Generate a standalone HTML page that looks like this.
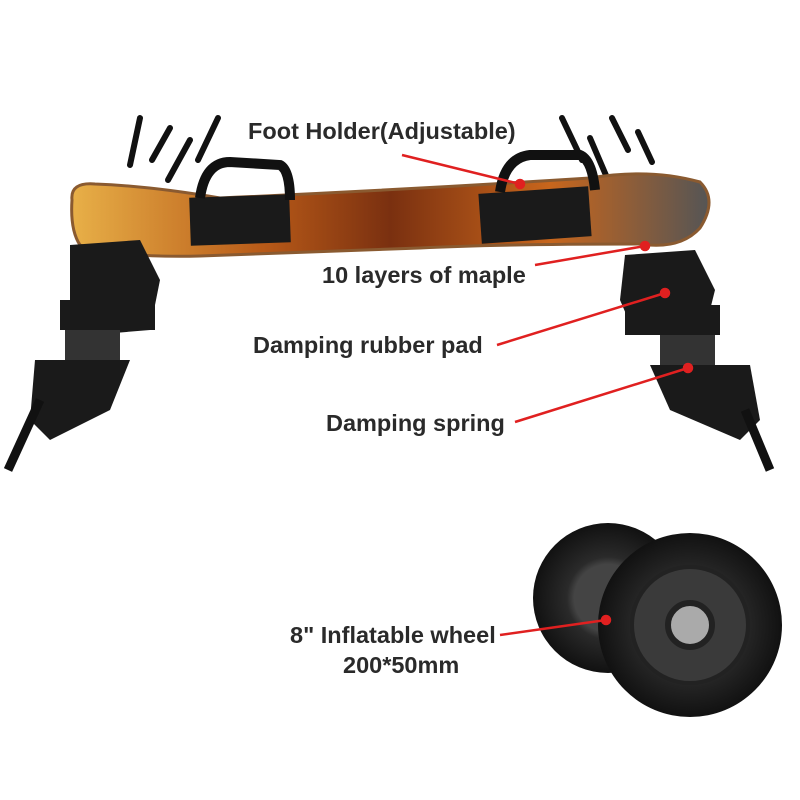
<!DOCTYPE html>
<html><head><meta charset="utf-8"><style>
html,body{margin:0;padding:0;background:#fff;}
svg{display:block}
text{font-family:"Liberation Sans",sans-serif;font-weight:bold;font-size:23.5px;fill:#2a2a2a}
</style></head><body>
<svg width="800" height="800" viewBox="0 0 800 800">
<defs>
<linearGradient id="dk" x1="0" x2="1"><stop offset="0" stop-color="#e8b048"/><stop offset="0.3" stop-color="#b85a18"/><stop offset="0.5" stop-color="#7a3010"/><stop offset="0.75" stop-color="#c8661c"/><stop offset="1" stop-color="#555"/></linearGradient>
<radialGradient id="tw"><stop offset="0.45" stop-color="#444"/><stop offset="0.55" stop-color="#2a2a2a"/><stop offset="1" stop-color="#111"/></radialGradient>
</defs>
<g stroke="#111" stroke-width="6" stroke-linecap="round">
<line x1="140" y1="118" x2="130" y2="165"/><line x1="170" y1="128" x2="152" y2="160"/>
<line x1="190" y1="140" x2="168" y2="180"/><line x1="218" y1="118" x2="198" y2="160"/>
<line x1="562" y1="118" x2="582" y2="160"/><line x1="590" y1="138" x2="608" y2="180"/>
<line x1="612" y1="118" x2="628" y2="150"/><line x1="638" y1="132" x2="652" y2="162"/>
</g>
<path d="M72 200 Q70 182 95 184 Q150 186 220 198 Q400 190 590 178 Q650 168 700 182 Q718 200 700 228 Q680 250 640 244 Q500 244 420 248 Q300 252 200 256 Q120 258 80 245 Q70 230 72 200Z" fill="url(#dk)" stroke="#8a5a30" stroke-width="3"/>
<rect x="190" y="196" width="100" height="48" fill="#1a1a1a" transform="rotate(-2 240 220)"/>
<rect x="480" y="190" width="110" height="50" fill="#1a1a1a" transform="rotate(-4 535 215)"/>
<path d="M200 198 Q205 162 230 162 L280 165 Q290 170 290 200" fill="none" stroke="#111" stroke-width="10"/>
<path d="M500 192 Q505 158 530 155 L580 155 Q592 160 595 190" fill="none" stroke="#111" stroke-width="10"/>
<g fill="#1a1a1a">
<path d="M70 245 L140 240 L160 280 L150 330 L90 335 L70 300Z"/>
<rect x="60" y="300" width="95" height="30"/>
<rect x="65" y="330" width="55" height="40" fill="#333"/>
<path d="M35 360 L130 360 L110 410 L50 440 L30 420Z"/>
<line x1="40" y1="400" x2="8" y2="470" stroke="#111" stroke-width="9"/>
</g>
<g fill="#1a1a1a">
<path d="M625 255 L695 250 L715 290 L705 330 L635 335 L620 300Z"/>
<rect x="625" y="305" width="95" height="30"/>
<rect x="660" y="335" width="55" height="40" fill="#333"/>
<path d="M650 365 L750 365 L760 420 L740 440 L670 410Z"/>
<line x1="745" y1="410" x2="770" y2="470" stroke="#111" stroke-width="9"/>
</g>
<circle cx="608" cy="598" r="75" fill="url(#tw)"/>
<circle cx="690" cy="625" r="92" fill="url(#tw)"/>
<circle cx="690" cy="625" r="58" fill="#3a3a3a" stroke="#222" stroke-width="4"/>
<circle cx="690" cy="625" r="22" fill="#aaa" stroke="#222" stroke-width="6"/>
<text x="248" y="139">Foot Holder(Adjustable)</text>
<text x="322" y="283">10 layers of maple</text>
<text x="253" y="353">Damping rubber pad</text>
<text x="326" y="431">Damping spring</text>
<text x="290" y="643">8" Inflatable wheel</text>
<text x="343" y="673">200*50mm</text>
<g stroke="#e02020" stroke-width="2.5" fill="#e02020">
<line x1="402" y1="155" x2="520" y2="184"/><circle cx="520" cy="184" r="4"/>
<line x1="535" y1="265" x2="645" y2="246"/><circle cx="645" cy="246" r="4"/>
<line x1="497" y1="345" x2="665" y2="293"/><circle cx="665" cy="293" r="4"/>
<line x1="515" y1="422" x2="688" y2="368"/><circle cx="688" cy="368" r="4"/>
<line x1="500" y1="635" x2="606" y2="620"/><circle cx="606" cy="620" r="4"/>
</g>
</svg>
</body></html>
